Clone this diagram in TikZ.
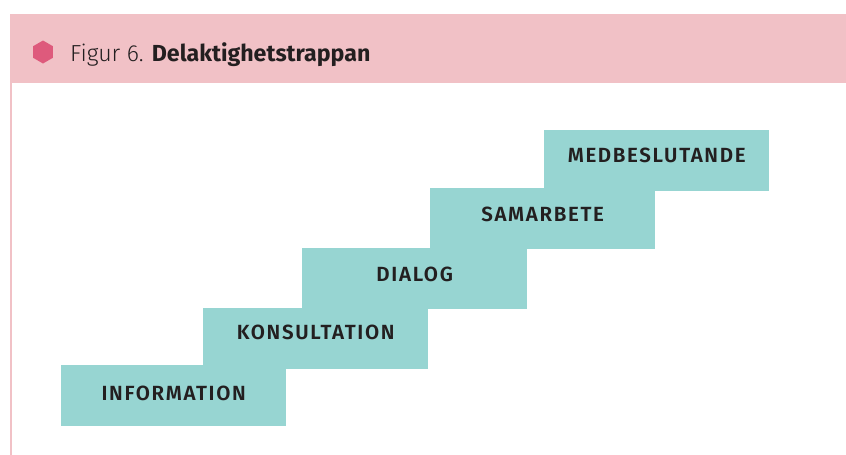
\documentclass[tikz,border=0pt]{standalone}
\usepackage{fontspec}
\setmainfont{Fira Sans}
\newfontfamily\lightfont{Fira Sans}[UprightFont={* Light}]
\newfontfamily\labelfont{Fira Sans}[UprightFont={* SemiBold},LetterSpace=8]
\usetikzlibrary{shapes.geometric}
\definecolor{band}{HTML}{F1C1C6}
\definecolor{hexcol}{HTML}{DE5A7C}
\definecolor{teal}{HTML}{97D5D2}
\definecolor{ink}{HTML}{231F20}
\tikzset{
  stepbox/.style={fill=teal, draw=none, minimum width=225pt, minimum height=61pt, inner sep=0pt, anchor=north west},
  steplabel/.style={text=ink, font=\labelfont\fontsize{20.5}{24}\selectfont, inner sep=0pt}
}
\begin{document}
\begin{tikzpicture}[x=1pt,y=-1pt]
\useasboundingbox (0,0) rectangle (846,455);
\fill[white] (0,0) rectangle (846,455);
% header band
\fill[band] (10,14) rectangle (846,83);
\fill[band] (10,83) rectangle (12,455);
\node[regular polygon, regular polygon sides=6, fill=hexcol, minimum size=23pt, inner sep=0pt, rotate=90] (hex) at (43,52) {};
\node[anchor=base west, text=ink, inner sep=0pt, font=\fontsize{23.2}{26}\selectfont] (title) at (70,61) {{\lightfont Figur 6.} \textbf{Delaktighetstrappan}};
% steps
\node[stepbox] (medb) at (544,130) {};
\node[stepbox] (sam) at (430,188) {};
\node[stepbox] (dia) at (302,248) {};
\node[stepbox] (kon) at (203,308) {};
\node[stepbox] (inf) at (61,365) {};
\node[steplabel] (tmedb) at ([yshift=5.5pt]medb.center) {MEDBESLUTANDE};
\node[steplabel] (tsam) at ([yshift=4.5pt]sam.center) {SAMARBETE};
\node[steplabel] (tdia) at ([yshift=4.5pt]dia.center) {DIALOG};
\node[steplabel] (tkon) at ([yshift=6.5pt]kon.center) {KONSULTATION};
\node[steplabel] (tinf) at ([yshift=2.5pt]inf.center) {INFORMATION};
\end{tikzpicture}
\end{document}
